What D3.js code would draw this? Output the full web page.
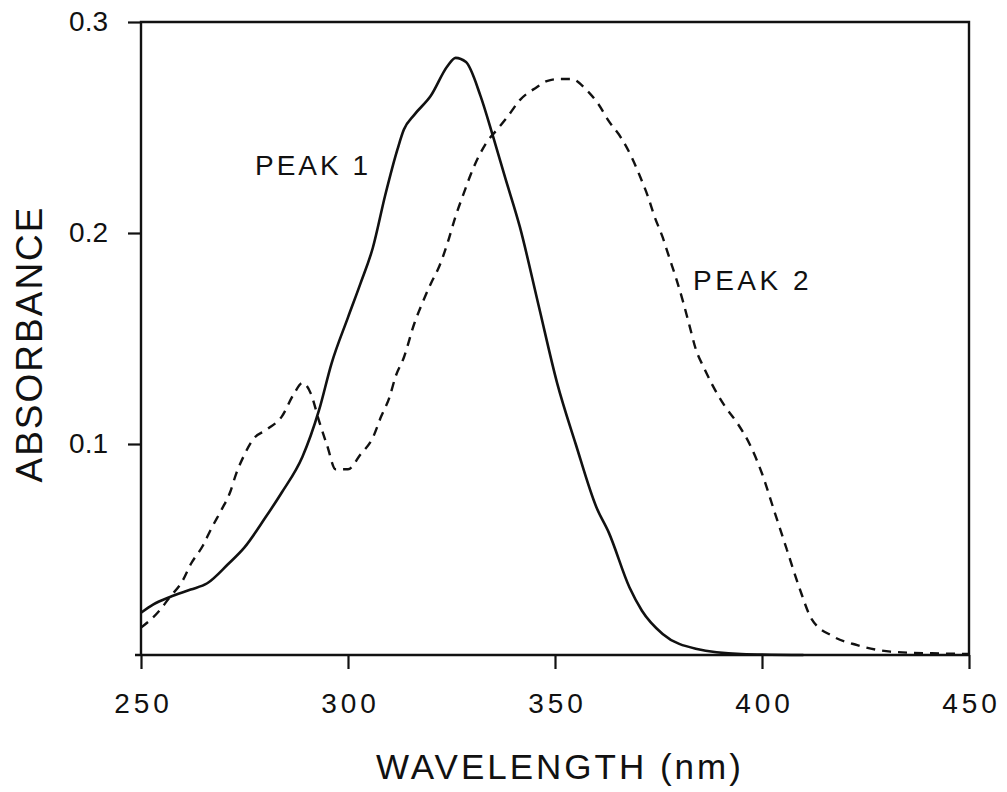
<!DOCTYPE html>
<html>
<head>
<meta charset="utf-8">
<script src="https://cdn.jsdelivr.net/npm/d3@7"></script>
<style>
body { margin: 0; background: #fff; }
text { font-family: "Liberation Sans", Arial, sans-serif; fill: #111; }
.tick line { stroke: #111; stroke-width: 2.2; }
</style>
</head>
<body>
<div class="chart-wrapper"></div>
<script>
// wavelength (nm) / absorbance
const peak1Wl = [250, 253, 257, 262, 266, 271, 275, 280, 284, 289, 291, 293, 296, 300, 303, 306, 309, 312, 313.5, 316, 320, 324, 326, 328.5, 332, 335, 338, 341.5, 346, 350.5, 355, 360, 363, 368, 371, 376, 384, 395, 410]
const peak1Abs = [0.020, 0.024, 0.0275, 0.031, 0.034, 0.043, 0.051, 0.065, 0.077, 0.094, 0.104, 0.116, 0.138, 0.160, 0.176, 0.193, 0.218, 0.240, 0.249, 0.256, 0.265, 0.279, 0.283, 0.281, 0.265, 0.246, 0.226, 0.203, 0.166, 0.129, 0.100, 0.070, 0.058, 0.032, 0.021, 0.010, 0.003, 0.0005, 0]

const peak2Wl = [250, 254, 257, 260, 262, 265, 267, 269.5, 271.5, 273, 275, 277, 280.5, 284, 287, 289, 291, 293, 295, 297, 300, 303, 306, 308, 310, 311.5, 313.5, 316, 318, 320, 322, 324, 326, 328, 329.5, 331.5, 333.5, 336, 338.5, 341.5, 345.5, 348, 351, 354, 357.5, 360.5, 363, 366, 368.5, 370.5, 372.5, 374, 376, 377.5, 379.5, 381, 382.5, 384, 386, 388, 391, 394, 397, 400, 403, 406, 409, 412, 417, 423, 431, 441, 450]
const peak2Abs = [0.013, 0.020, 0.0275, 0.035, 0.043, 0.052, 0.060, 0.069, 0.077, 0.086, 0.095, 0.102, 0.107, 0.113, 0.124, 0.129, 0.124, 0.111, 0.099, 0.088, 0.088, 0.095, 0.103, 0.113, 0.122, 0.132, 0.141, 0.157, 0.167, 0.176, 0.184, 0.195, 0.208, 0.219, 0.227, 0.236, 0.243, 0.249, 0.255, 0.263, 0.269, 0.272, 0.273, 0.273, 0.268, 0.261, 0.253, 0.245, 0.236, 0.227, 0.217, 0.208, 0.198, 0.189, 0.177, 0.167, 0.156, 0.145, 0.136, 0.128, 0.118, 0.110, 0.100, 0.086, 0.068, 0.050, 0.032, 0.017, 0.009, 0.0047, 0.0016, 0.0008, 0.0005]

const xTicks = [250, 300, 350, 400, 450]
const yTicks = [0.1, 0.2, 0.3]

const width = 1007
const height = 792

let svg = d3.select('.chart-wrapper').append('svg')
.attr('width', width)
.attr('height', height)

let x = d3.scaleLinear().domain([250, 450]).range([141, 969])
let y = d3.scaleLinear().domain([0, 0.3]).range([655, 22])

// frame
svg.append('path')
.attr('d', 'M' + x(250) + ',' + y(0) + 'V' + y(0.3) + 'H' + x(450) + 'V' + y(0))
.attr('fill', 'none')
.attr('stroke', '#111')
.attr('stroke-width', 2.4)

svg.append('line')
.attr('x1', x(250) - 6).attr('x2', x(450))
.attr('y1', y(0)).attr('y2', y(0))
.attr('stroke', '#111')
.attr('stroke-width', 2.6)

let xAxis = svg.append('g')
.attr('transform', 'translate(0,' + y(0) + ')')
.call(d3.axisBottom(x).tickValues(xTicks).tickSize(14).tickPadding(24).tickFormat(d3.format('d')))

xAxis.select('.domain').remove()
xAxis.selectAll('text')
.style('font-size', '28px')
.style('letter-spacing', '4px')
.attr('dx', 2)

let yAxis = svg.append('g')
.attr('transform', 'translate(' + x(250) + ',0)')
.call(d3.axisLeft(y).tickValues(yTicks).tickSize(13).tickPadding(20).tickFormat(d3.format('.1f')))

yAxis.select('.domain').remove()
yAxis.selectAll('text')
.style('font-size', '28px')

let line = d3.line()
.x(d => x(d[0]))
.y(d => y(d[1]))
.curve(d3.curveMonotoneX)

svg.append('path')
.datum(d3.zip(peak1Wl, peak1Abs))
.attr('d', line)
.attr('fill', 'none')
.attr('stroke', '#111')
.attr('stroke-width', 2.6)

svg.append('path')
.datum(d3.zip(peak2Wl, peak2Abs))
.attr('d', line)
.attr('fill', 'none')
.attr('stroke', '#111')
.attr('stroke-width', 2.4)
.attr('stroke-dasharray', '9,7')

// labels
svg.append('text')
.attr('x', 255).attr('y', 175)
.style('font-size', '28px')
.style('letter-spacing', '3px')
.text('PEAK 1')

svg.append('text')
.attr('x', 693).attr('y', 290)
.style('font-size', '28px')
.style('letter-spacing', '3.5px')
.text('PEAK 2')

svg.append('text')
.attr('x', 560).attr('y', 779)
.attr('text-anchor', 'middle')
.style('font-size', '35px')
.style('letter-spacing', '3px')
.text('WAVELENGTH (nm)')

svg.append('text')
.attr('transform', 'translate(42,344) rotate(-90)')
.attr('text-anchor', 'middle')
.style('font-size', '37px')
.style('letter-spacing', '2px')
.text('ABSORBANCE')
</script>
</body>
</html>
